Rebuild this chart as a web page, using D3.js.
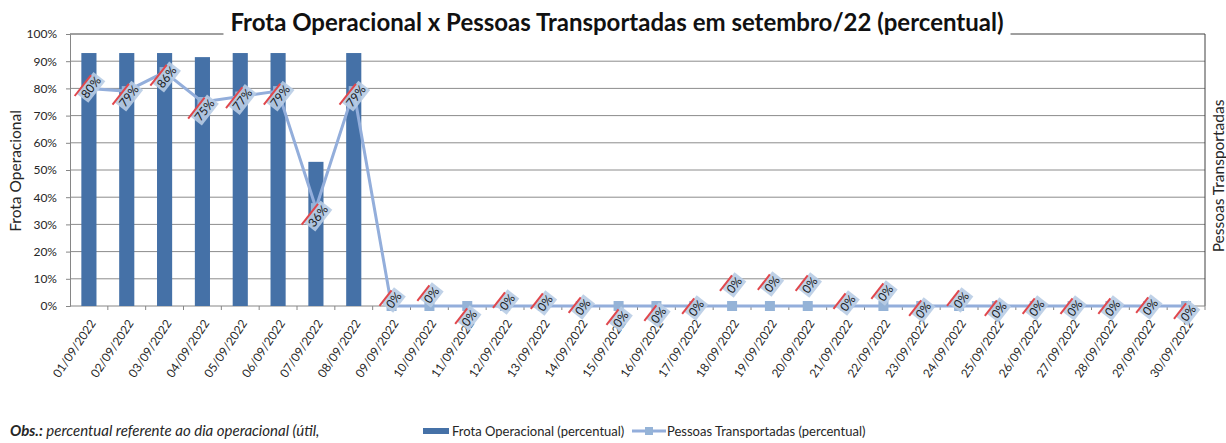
<!DOCTYPE html>
<html>
<head>
<meta charset="utf-8">
<script src="https://cdn.jsdelivr.net/npm/d3@7"></script>
<style>
  body { margin: 0; background: #fff; }
  text { font-family: Lato, "Open Sans", sans-serif; fill: #262626; }
</style>
</head>
<body>
<svg id="chart" width="1226" height="443"></svg>
<script>
var dates = ["01/09/2022","02/09/2022","03/09/2022","04/09/2022","05/09/2022","06/09/2022",
  "07/09/2022","08/09/2022","09/09/2022","10/09/2022","11/09/2022","12/09/2022","13/09/2022",
  "14/09/2022","15/09/2022","16/09/2022","17/09/2022","18/09/2022","19/09/2022","20/09/2022",
  "21/09/2022","22/09/2022","23/09/2022","24/09/2022","25/09/2022","26/09/2022","27/09/2022",
  "28/09/2022","29/09/2022","30/09/2022"];
var frota = [0.93,0.93,0.93,0.915,0.93,0.93,0.53,0.93,0,0,0,0,0,0,0,0,0,0,0,0,0,0,0,0,0,0,0,0,0,0];
var pessoas = [0.80,0.79,0.86,0.75,0.77,0.79,0.36,0.79,0,0,0,0,0,0,0,0,0,0,0,0,0,0,0,0,0,0,0,0,0,0];
var yTicks = [0,0.1,0.2,0.3,0.4,0.5,0.6,0.7,0.8,0.9,1];

// label nudges (excel overlapping labels), pixels
var labelShift = [-1,5,5,8,3,5,8,5,-6,-11,12,-4,-3,1,13,9,2,-21,-22,-21,-3,-13,4,-6,4,2,2,2,1,7];

var svg = d3.select("#chart"),
	margin = {top: 34, right: 21, bottom: 137, left: 70},
	W = 1226, H = 443,
	width = W - margin.left - margin.right,
	height = H - margin.top - margin.bottom;

var x = d3.scaleBand().domain(dates).range([margin.left, margin.left + width]);
var y = d3.scaleLinear().domain([0, 1]).range([margin.top + height, margin.top]);
var fmt = d3.format(".0%");

// grid
svg.selectAll(".grid")
	.data(yTicks.filter(function(d){ return d > 0 && d < 1; }))
	.enter().append("line")
	.attr("x1", margin.left).attr("x2", margin.left + width)
	.attr("y1", function(d){ return y(d); }).attr("y2", function(d){ return y(d); })
	.style("stroke", "#8c8c8c").style("stroke-width", 1);

// plot border top/right
svg.append("line").attr("x1", margin.left).attr("x2", margin.left + width)
	.attr("y1", y(1)).attr("y2", y(1)).style("stroke", "#404040");
svg.append("line").attr("x1", margin.left + width).attr("x2", margin.left + width)
	.attr("y1", y(1)).attr("y2", y(0)).style("stroke", "#404040");

// left axis
var ya = svg.append("g")
	.attr("transform", "translate(" + margin.left + ",0)")
	.call(d3.axisLeft(y).tickValues(yTicks).tickFormat(fmt).tickSize(4).tickPadding(9));
ya.select(".domain").style("stroke", "#868686");
ya.selectAll(".tick line").style("stroke", "#868686");
ya.selectAll("text").style("font-size", "12px").style("font-family", "Lato, sans-serif").style("fill", "#262626");

// bottom axis line + ticks between categories
svg.append("line").attr("x1", margin.left).attr("x2", margin.left + width)
	.attr("y1", y(0)).attr("y2", y(0)).style("stroke", "#868686");
svg.selectAll(".xtick")
	.data(dates)
	.enter().append("line")
	.attr("x1", function(d){ return x(d) + x.step(); }).attr("x2", function(d){ return x(d) + x.step(); })
	.attr("y1", y(0)).attr("y2", y(0) + 4)
	.style("stroke", "#868686");

svg.selectAll(".xlabel")
	.data(dates)
	.enter().append("text")
	.attr("transform", function(d){ return "translate(" + (x(d) + x.bandwidth()/2 + 4) + "," + (y(0) + 15) + ") rotate(-56)"; })
	.attr("text-anchor", "end")
	.attr("dy", "0.35em")
	.style("font-size", "12px")
	.text(function(d){ return d; });

// bars
var bw = x.bandwidth() * 0.4;
svg.selectAll(".bar")
	.data(frota)
	.enter().append("rect")
	.attr("x", function(d, i){ return x(dates[i]) + (x.bandwidth() - bw)/2; })
	.attr("width", bw)
	.attr("y", function(d){ return y(d); })
	.attr("height", function(d){ return y(0) - y(d); })
	.style("fill", "#4571A7");

// line
var line = d3.line()
	.x(function(d, i){ return x(dates[i]) + x.bandwidth()/2; })
	.y(function(d){ return y(d); });
svg.append("path").datum(pessoas)
	.attr("d", line)
	.style("fill", "none").style("stroke", "#93AEDB").style("stroke-width", 3);
svg.selectAll(".mk")
	.data(pessoas)
	.enter().append("rect")
	.attr("x", function(d, i){ return x(dates[i]) + x.bandwidth()/2 - 5; })
	.attr("y", function(d){ return y(d) - 5; })
	.attr("width", 10).attr("height", 10)
	.style("fill", "#95B3D7");

// data labels
pessoas.forEach(function(v, i){
	var g = svg.append("g")
		.attr("transform", "translate(" + (x(dates[i]) + x.bandwidth()/2 + 2) + "," + (y(v) + labelShift[i]) + ") rotate(-52)");
	var r = g.append("rect"), l = g.append("line");
	var t = g.append("text").attr("text-anchor", "middle").attr("dy", "0.36em")
		.style("font-size", "12px").style("fill", "#1a1a1a").text(fmt(v));
	var w = t.node().getComputedTextLength();
	r.attr("x", -w/2 - 2).attr("y", -7.5).attr("width", w + 4).attr("height", 15)
		.style("fill", "#B8CCE4").style("opacity", 0.9);
	l.attr("x1", -w/2 - 5).attr("x2", w/2 - 2).attr("y1", -7.5).attr("y2", -7.5)
		.style("stroke", "#E0474C").style("stroke-width", 2);
});

// title with white backing over the top border
var title = svg.append("text")
	.attr("x", 617).attr("y", 31)
	.attr("text-anchor", "middle")
	.style("font-size", "24px").style("font-weight", "bold").style("fill", "#111")
	.text("Frota Operacional x Pessoas Transportadas em setembro/22 (percentual)");
var tb = title.node().getBBox();
svg.append("rect")
	.attr("x", tb.x - 7).attr("y", tb.y).attr("width", tb.width + 14).attr("height", tb.height + 6)
	.style("fill", "#fff");
title.raise();

// axis titles
svg.append("text")
	.attr("transform", "translate(21," + 171 + ") rotate(-90)")
	.attr("text-anchor", "middle")
	.style("font-size", "15.5px")
	.text("Frota Operacional");
svg.append("text")
	.attr("transform", "translate(1224," + 176 + ") rotate(-90)")
	.attr("text-anchor", "middle")
	.style("font-size", "15.5px")
	.text("Pessoas Transportadas");

// note
var obs = svg.append("text").attr("x", 10).attr("y", 436)
	.style("font-size", "15px").style("font-style", "italic");
obs.append("tspan").style("font-weight", "bold").text("Obs.:");
obs.append("tspan").text(" percentual referente ao dia operacional (útil,");

// legend
var lg = svg.append("g").attr("transform", "translate(423,431)");
lg.append("rect").attr("x", 0).attr("y", -3).attr("width", 26).attr("height", 6).style("fill", "#4571A7");
lg.append("text").attr("x", 29).attr("dy", "0.35em").style("font-size", "13px").text("Frota Operacional (percentual)");
lg.append("line").attr("x1", 209).attr("x2", 243).attr("y1", 0).attr("y2", 0)
	.style("stroke", "#93AEDB").style("stroke-width", 3);
lg.append("rect").attr("x", 222).attr("y", -4).attr("width", 8).attr("height", 8).style("fill", "#95B3D7");
lg.append("text").attr("x", 244).attr("dy", "0.35em").style("font-size", "13px").text("Pessoas Transportadas (percentual)");
</script>
</body>
</html>
